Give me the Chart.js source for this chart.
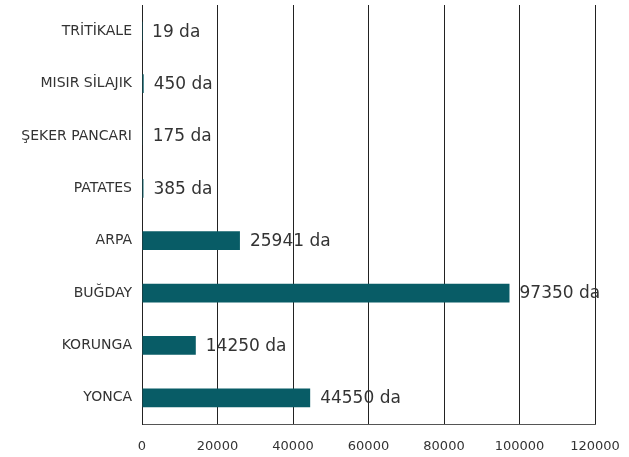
<!DOCTYPE html>
<html>
<head>
    <title>Ekim Alanları</title>
    <style>
        body {
            margin: 0;
            padding: 0;
            background-color: #FFFFFF;
        }

        #chart-container {
            width: 629px;
            height: 457px;
        }
    </style>
</head>
<body>
    <div id="chart-container">
        <canvas id="chart"></canvas>
    </div>

    <script src="https://cdn.jsdelivr.net/npm/chart.js"></script>
    <script>
        var crops = ['TRİTİKALE', 'MISIR SİLAJIK', 'ŞEKER PANCARI', 'PATATES', 'ARPA', 'BUĞDAY', 'KORUNGA', 'YONCA'];
        var areas = [19, 450, 175, 385, 25941, 97350, 14250, 44550]; // dekar
        var unit = 'da';
        var xMax = 120000;
        var xStep = 20000;

        var fontFamily = '"DejaVu Sans", sans-serif';

        // Write "N da" to the right of each bar
        var valueLabels = {
            id: 'valueLabels',
            afterDatasetsDraw: function(chart) {
                var ctx = chart.ctx;
                var meta = chart.getDatasetMeta(0);
                ctx.save();
                ctx.font = '17px ' + fontFamily;
                ctx.fillStyle = '#333333';
                ctx.textAlign = 'left';
                ctx.textBaseline = 'middle';
                meta.data.forEach(function(bar, i) {
                    ctx.fillText(areas[i] + ' ' + unit, bar.x + 10, bar.y + 1);
                });
                ctx.restore();
            }
        };

        var ctx = document.getElementById('chart').getContext('2d');
        var chart = new Chart(ctx, {
            type: 'bar',
            data: {
                labels: crops,
                datasets: [{
                    data: areas,
                    backgroundColor: '#085C66',
                    borderWidth: 0,
                    barPercentage: 0.36,
                    categoryPercentage: 1.0
                }]
            },
            plugins: [valueLabels],
            options: {
                indexAxis: 'y',
                responsive: true,
                maintainAspectRatio: false,
                animation: false,
                layout: {
                    padding: { top: 5, right: 34, left: 0, bottom: 0 }
                },
                plugins: {
                    legend: { display: false },
                    tooltip: { enabled: false }
                },
                scales: {
                    x: {
                        min: 0,
                        max: xMax,
                        ticks: {
                            stepSize: xStep,
                            padding: 15,
                            color: '#333333',
                            font: { family: fontFamily, size: 13 },
                            callback: function(value) { return String(value); }
                        },
                        grid: {
                            color: '#222222',
                            lineWidth: 1,
                            drawTicks: false
                        },
                        border: { display: true, color: '#555555', width: 1 },
                        afterFit: function(scale) {
                            scale.height = 33;
                            scale.paddingLeft = 0;
                            scale.paddingRight = 0;
                        }
                    },
                    y: {
                        ticks: {
                            padding: 10,
                            color: '#333333',
                            font: { family: fontFamily, size: 14 }
                        },
                        grid: { display: false, drawTicks: false },
                        border: { display: true, color: '#222222', width: 1 },
                        afterFit: function(scale) {
                            scale.width = 142;
                            scale.paddingTop = 0;
                            scale.paddingBottom = 0;
                        }
                    }
                }
            }
        });
    </script>
</body>
</html>
